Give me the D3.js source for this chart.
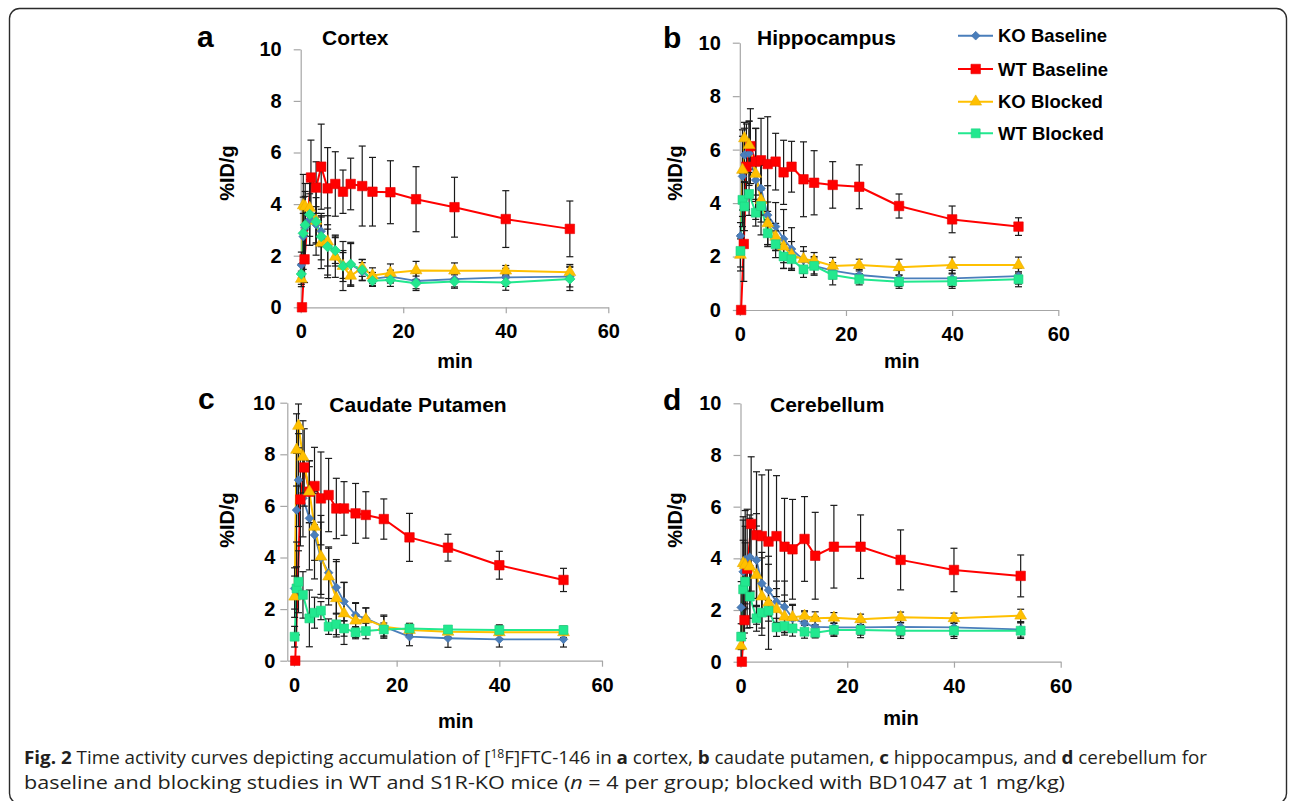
<!DOCTYPE html>
<html><head><meta charset="utf-8">
<script src="https://cdn.jsdelivr.net/npm/d3@7"></script>
<style>body{margin:0;background:#fff}svg{display:block}</style>
</head><body>
<svg id="chart" width="1292" height="801"></svg>
<script>
// ---------- DATA ----------
const timesWT = [0.25, 0.75, 1.25, 2, 3, 4, 5.25, 6.75, 8.25, 9.75, 12, 14, 17.5, 22.5, 30, 40, 52.5];
const timesKO = [0.125, 0.5, 0.875, 1.75, 3, 4, 5.25, 6.75, 8.25, 9.75, 12, 14, 17.5, 22.5, 30, 40, 52.5];
const xTicks = [0, 20, 40, 60];
const yTicks = [0, 2, 4, 6, 8, 10];
const seriesNames = ["KO Baseline", "WT Baseline", "KO Blocked", "WT Blocked"];
const regionTitles = ["Cortex", "Hippocampus", "Caudate Putamen", "Cerebellum"];
const panelLetters = ["a", "b", "c", "d"];

// Cortex
const cortexKOBaseline   = [1.64, 2.74, 3.1, 3.4, 3.2, 2.95, 2.4, 2.2, 1.62, 1.67, 1.38, 1.1, 1.19, 1.02, 1.09, 1.16, 1.19];
const cortexKOBaselineSD = [0.5, 0.9, 1.2, 1.0, 0.7, 0.6, 0.8, 0.6, 0.5, 0.8, 0.35, 0.25, 0.25, 0.3, 0.3, 0.35, 0.4];
const cortexWTBaseline   = [0, 1.86, null, 5.03, 4.64, 5.45, 4.61, 4.78, 4.48, 4.78, 4.70, 4.48, 4.46, 4.19, 3.88, 3.42, 3.04];
const cortexWTBaselineSD = [0, 0.9, null, 1.45, 1.0, 1.65, 1.58, 1.25, 0.84, 1.0, 1.55, 1.33, 1.22, 1.26, 1.16, 1.1, 1.08];
const cortexKOBlocked    = [1.1, 3.95, 3.9, 3.85, 3.35, 2.5, 2.55, 1.96, 1.6, 1.22, 1.53, 1.23, 1.33, 1.43, 1.42, 1.42, 1.36];
const cortexKOBlockedSD  = [0.3, 1.2, 0.9, 1.1, 0.9, 1.0, 1.3, 0.8, 0.95, 0.4, 0.33, 0.3, 0.35, 0.35, 0.3, 0.2, 0.3];
const cortexWTBlocked    = [1.29, 2.87, 3.19, 3.6, 3.32, 2.74, 2.35, 2.2, 1.6, 1.67, 1.45, 1.03, 1.06, 0.93, 1.0, 0.96, 1.1];
const cortexWTBlockedSD  = [0.4, 1.4, 1.3, 1.2, 1.3, 0.9, 1.2, 0.5, 0.6, 0.85, 0.4, 0.22, 0.25, 0.28, 0.26, 0.3, 0.45];

// Hippocampus
const hippoKOBaseline   = [2.77, 5.0, 5.8, 5.86, 4.86, 4.55, 3.55, 3.12, 2.66, 2.28, 1.87, 1.65, 1.47, 1.31, 1.18, 1.18, 1.27];
const hippoKOBaselineSD = [0.5, 1.5, 1.0, 1.2, 0.8, 1.0, 1.1, 0.9, 1.1, 0.8, 0.5, 0.3, 0.3, 0.2, 0.3, 0.3, 0.3];
const hippoWTBaseline   = [0, 2.47, 5.36, 6.13, 5.55, 5.6, 5.46, 5.55, 5.15, 5.36, 4.89, 4.76, 4.68, 4.61, 3.89, 3.39, 3.12];
const hippoWTBaselineSD = [0, 1.4, 1.6, 1.4, 1.25, 1.57, 1.77, 1.06, 1.2, 0.95, 1.4, 1.2, 0.87, 0.82, 0.45, 0.5, 0.33];
const hippoKOBlocked    = [2.06, 5.24, 6.42, 6.17, 5.09, 4.11, 3.24, 2.74, 2.37, 2.06, 1.9, 1.85, 1.65, 1.68, 1.6, 1.68, 1.68];
const hippoKOBlockedSD  = [0.6, 1.5, 0.6, 0.9, 1.7, 1.3, 0.8, 0.5, 0.6, 0.5, 0.3, 0.3, 0.32, 0.22, 0.3, 0.3, 0.3];
const hippoWTBlocked    = [2.21, 4.12, 3.87, 4.34, 3.64, 3.89, 2.87, 2.46, 2.0, 1.9, 1.52, 1.65, 1.31, 1.15, 1.06, 1.08, 1.15];
const hippoWTBlockedSD  = [0.6, 1.0, 0.9, 0.8, 0.5, 0.6, 0.5, 0.5, 0.45, 0.4, 0.3, 0.35, 0.37, 0.21, 0.25, 0.27, 0.28];

// Caudate Putamen
const caudateKOBaseline   = [2.8, 5.84, 7.0, 6.3, 5.52, 4.87, 3.97, 3.41, 2.84, 2.29, 1.77, 1.64, 1.32, 0.93, 0.87, 0.83, 0.83];
const caudateKOBaselineSD = [0.8, 2.2, 1.8, 1.5, 2.0, 1.7, 1.4, 1.0, 1.0, 0.75, 0.45, 0.4, 0.45, 0.35, 0.35, 0.3, 0.3];
const caudateWTBaseline   = [0, null, 6.25, 7.49, 6.55, 6.77, 6.29, 6.42, 5.9, 5.9, 5.71, 5.65, 5.49, 4.78, 4.38, 3.7, 3.13];
const caudateWTBaselineSD = [0, null, 1.8, 1.5, 1.2, 1.5, 1.8, 1.42, 1.17, 1.04, 1.16, 0.9, 0.78, 0.93, 0.52, 0.54, 0.45];
const caudateKOBlocked    = [2.48, 8.17, 9.1, 7.9, 6.55, 5.19, 4.03, 3.26, 2.42, 1.83, 1.55, 1.6, 1.32, 1.19, 1.12, 1.1, 1.1];
const caudateKOBlockedSD  = [0.8, 1.4, 0.85, 1.4, 1.2, 1.3, 1.6, 1.1, 1.5, 1.2, 0.7, 0.45, 0.4, 0.2, 0.2, 0.25, 0.2];
const caudateWTBlocked    = [0.93, 2.8, 3.06, 2.55, 1.64, 1.86, 1.94, 1.32, 1.41, 1.25, 1.1, 1.15, 1.21, 1.25, 1.21, 1.19, 1.19];
const caudateWTBlockedSD  = [0.4, 1.8, 1.2, 0.9, 1.1, 0.6, 0.35, 0.3, 0.4, 0.3, 0.2, 0.3, 0.25, 0.2, 0.15, 0.2, 0.15];

// Cerebellum
const cerebKOBaseline   = [2.1, 3.48, 3.95, 4.05, 3.93, 3.03, 2.77, 2.32, 2.12, 1.68, 1.48, 1.35, 1.33, 1.33, 1.35, 1.33, 1.25];
const cerebKOBaselineSD = [1.0, 2.0, 1.9, 1.5, 1.8, 1.2, 1.0, 0.8, 1.0, 0.5, 0.45, 0.4, 0.3, 0.3, 0.35, 0.35, 0.3];
const cerebWTBaseline   = [0, 1.61, 3.6, 5.33, 4.9, 4.86, 4.65, 4.86, 4.45, 4.35, 4.75, 4.1, 4.45, 4.45, 3.94, 3.55, 3.32];
const cerebWTBaselineSD = [0, 0.5, 2.3, 2.6, 2.45, 2.37, 2.77, 2.34, 1.87, 1.93, 1.64, 1.68, 1.6, 1.23, 1.16, 0.84, 0.81];
const cerebKOBlocked    = [0.61, 3.81, 3.74, 3.68, 3.35, 2.52, 2.28, 2.03, 1.74, 1.72, 1.77, 1.68, 1.7, 1.64, 1.72, 1.68, 1.78];
const cerebKOBlockedSD  = [0.5, 1.8, 1.5, 2.0, 1.9, 1.5, 1.8, 0.8, 0.6, 0.5, 0.2, 0.25, 0.2, 0.2, 0.2, 0.2, 0.25];
const cerebWTBlocked    = [0.97, 2.8, 3.1, 2.52, 1.68, 1.9, 1.97, 1.33, 1.38, 1.29, 1.16, 1.12, 1.23, 1.23, 1.2, 1.2, 1.2];
const cerebWTBlockedSD  = [0.5, 1.9, 1.5, 1.2, 0.5, 0.6, 0.4, 0.35, 0.35, 0.3, 0.25, 0.2, 0.25, 0.3, 0.3, 0.3, 0.3];

// ---------- STYLE / LAYOUT ----------
const seriesStyle = [
  {color: "#4A7EBB", times: timesKO, shape: "diamond", size: 38, width: 1.8},
  {color: "#FF0000", times: timesWT, shape: "square", size: 90, width: 2},
  {color: "#FFC000", times: timesKO, shape: "triangle", size: 60, width: 2},
  {color: "#22E88F", times: timesKO, shape: "square", size: 80, width: 2}
];
const panelData = [
  {vals: [cortexKOBaseline, cortexWTBaseline, cortexKOBlocked, cortexWTBlocked],
   sds: [cortexKOBaselineSD, cortexWTBaselineSD, cortexKOBlockedSD, cortexWTBlockedSD]},
  {vals: [hippoKOBaseline, hippoWTBaseline, hippoKOBlocked, hippoWTBlocked],
   sds: [hippoKOBaselineSD, hippoWTBaselineSD, hippoKOBlockedSD, hippoWTBlockedSD]},
  {vals: [caudateKOBaseline, caudateWTBaseline, caudateKOBlocked, caudateWTBlocked],
   sds: [caudateKOBaselineSD, caudateWTBaselineSD, caudateKOBlockedSD, caudateWTBlockedSD]},
  {vals: [cerebKOBaseline, cerebWTBaseline, cerebKOBlocked, cerebWTBlocked],
   sds: [cerebKOBaselineSD, cerebWTBaselineSD, cerebKOBlockedSD, cerebWTBlockedSD]}
];
const layout = [
  {xr: [300.7, 608.3], xmin: 0, yr: [307.3, 49.3], pad: 12, letter: [197, 46.5], title: [322, 45], minL: [455, 368], ylab: [226.7, 173], greenShape: "diamond"},
  {xr: [739.8, 1058.3], xmin: 0, yr: [310, 42.7], pad: 12, letter: [663, 48.3], title: [757, 45], minL: [901.7, 368], ylab: [675, 173], greenShape: "square"},
  {xr: [287.3, 602], xmin: -1.3, yr: [660.7, 402.7], pad: 5, letter: [198, 408.5], title: [329.3, 411.7], minL: [455.7, 728], ylab: [226.7, 520], greenShape: "square"},
  {xr: [740.5, 1060.7], xmin: 0, yr: [661.7, 403.3], pad: 12, letter: [663, 410], title: [770, 412], minL: [901, 725], ylab: [675, 520], greenShape: "square"}
];
const FONT = "'Liberation Sans', Arial, sans-serif";

const svg = d3.select("#chart");
svg.append("rect").attr("width", 1292).attr("height", 801).attr("fill", "#fff");
svg.append("rect").attr("x", 9.5).attr("y", 8.5).attr("width", 1277).attr("height", 795)
  .attr("rx", 10).attr("fill", "none").attr("stroke", "#2b2b2b").attr("stroke-width", 1.4);

function symPath(shape, size) {
  if (shape === "triangle") return d3.symbol().type(d3.symbolTriangle).size(size)();
  return d3.symbol().type(d3.symbolSquare).size(size)();
}
function addMarker(sel, shape, size, color, cx, cy) {
  sel.append("path").attr("d", symPath(shape, size))
    .attr("transform", `translate(${cx},${cy})` + (shape === "diamond" ? " rotate(45)" : ""))
    .attr("fill", color).attr("stroke", d3.color(color).darker(0.3)).attr("stroke-width", 0.6);
}

layout.forEach((p, pi) => {
  const x = d3.scaleLinear().domain([p.xmin, 60]).range(p.xr);
  const y = d3.scaleLinear().domain([0, 10]).range(p.yr);
  const g = svg.append("g");

  const yAx = g.append("g").attr("transform", `translate(${p.xr[0]},0)`)
    .call(d3.axisLeft(y).tickValues(yTicks).tickSize(7).tickSizeOuter(0).tickPadding(p.pad));
  const xAx = g.append("g").attr("transform", `translate(0,${p.yr[0]})`)
    .call(d3.axisBottom(x).tickValues(xTicks).tickSize(6).tickSizeOuter(0).tickPadding(11));
  [yAx, xAx].forEach(a => {
    a.selectAll(".domain").attr("stroke", "#A6A6A6").attr("stroke-width", 1.2);
    a.selectAll(".tick line").attr("stroke", "#A6A6A6").attr("stroke-width", 1.2);
    a.selectAll(".tick text").attr("fill", "#000").style("font-family", FONT)
      .style("font-size", "20px").style("font-weight", "bold");
  });

  // panel letter and title
  g.append("text").attr("x", p.letter[0]).attr("y", p.letter[1]).text(panelLetters[pi])
    .style("font-family", FONT).style("font-size", "30px").style("font-weight", "bold");
  g.append("text").attr("x", p.title[0]).attr("y", p.title[1]).text(regionTitles[pi])
    .style("font-family", FONT).style("font-size", "21px").style("font-weight", "bold");
  g.append("text").attr("x", p.minL[0]).attr("y", p.minL[1]).attr("text-anchor", "middle").text("min")
    .style("font-family", FONT).style("font-size", "20px").style("font-weight", "bold");
  g.append("text").attr("transform", `translate(${p.ylab[0]},${p.ylab[1]}) rotate(-90)`)
    .attr("text-anchor", "middle").attr("dominant-baseline", "central").text("%ID/g")
    .style("font-family", FONT).style("font-size", "20px").style("font-weight", "bold");

  const d = panelData[pi];
  const pts = seriesStyle.map((s, si) => s.times.map((t, i) => ({t, v: d.vals[si][i], sd: d.sds[si][i]}))
    .filter(o => o.v !== null));

  // lines
  seriesStyle.forEach((s, si) => {
    g.append("path").datum(pts[si])
      .attr("d", d3.line().x(o => x(o.t)).y(o => y(o.v)))
      .attr("fill", "none").attr("stroke", s.color).attr("stroke-width", s.width)
      .attr("stroke-linejoin", "round");
  });
  // error bars
  const eb = g.append("g").attr("stroke", "#1a1a1a").attr("stroke-width", 1.2);
  seriesStyle.forEach((s, si) => {
    pts[si].forEach(o => {
      if (!o.sd) return;
      const lo = Math.max(0, o.v - o.sd), hi = Math.min(10, o.v + o.sd);
      const cx = x(o.t);
      eb.append("line").attr("x1", cx).attr("x2", cx).attr("y1", y(lo)).attr("y2", y(hi));
      eb.append("line").attr("x1", cx - 3.5).attr("x2", cx + 3.5).attr("y1", y(hi)).attr("y2", y(hi));
      if (o.v - o.sd >= 0) eb.append("line").attr("x1", cx - 3.5).attr("x2", cx + 3.5).attr("y1", y(lo)).attr("y2", y(lo));
    });
  });
  // markers
  seriesStyle.forEach((s, si) => {
    const shape = si === 3 ? p.greenShape : s.shape;
    const size = (si === 3 && shape === "diamond") ? 55 : s.size;
    const mg = g.append("g");
    pts[si].forEach(o => addMarker(mg, shape, size, s.color, x(o.t), y(o.v)));
  });
});

// legend
const legY = [35.7, 69, 101.7, 133.3];
const lg = svg.append("g");
seriesStyle.forEach((s, si) => {
  lg.append("line").attr("x1", 958).attr("x2", 993).attr("y1", legY[si]).attr("y2", legY[si])
    .attr("stroke", s.color).attr("stroke-width", 2);
  addMarker(lg, s.shape, s.size, s.color, 975.7, legY[si]);
  lg.append("text").attr("x", 998).attr("y", legY[si]).attr("dominant-baseline", "central")
    .text(seriesNames[si]).style("font-family", FONT).style("font-size", "18.5px").style("font-weight", "bold");
});

// caption
const CAP = "'Open Sans', 'Noto Sans', sans-serif";
function capLine(yPos, parts, target) {
  const t = svg.append("text").attr("x", 24).attr("y", yPos).attr("fill", "#231f20")
    .style("font-family", CAP).style("font-size", "18.5px");
  parts.forEach(pt => {
    const ts = t.append("tspan").text(pt.s);
    if (pt.b) ts.style("font-weight", "bold");
    if (pt.i) ts.style("font-style", "italic");
    if (pt.sup) ts.attr("dy", -6).style("font-size", "12px");
    if (pt.after) ts.attr("dy", 6);
  });
  t.attr("textLength", target).attr("lengthAdjust", "spacingAndGlyphs");
}
capLine(764, [
  {s: "Fig. 2", b: true}, {s: " Time activity curves depicting accumulation of ["},
  {s: "18", sup: true}, {s: "F]FTC-146 in ", after: true}, {s: "a", b: true}, {s: " cortex, "},
  {s: "b", b: true}, {s: " caudate putamen, "}, {s: "c", b: true}, {s: " hippocampus, and "},
  {s: "d", b: true}, {s: " cerebellum for"}
], 1183);
capLine(789, [
  {s: "baseline and blocking studies in WT and S1R-KO mice ("}, {s: "n", i: true},
  {s: " = 4 per group; blocked with BD1047 at 1 mg/kg)"}
], 1041);
</script>
</body></html>
